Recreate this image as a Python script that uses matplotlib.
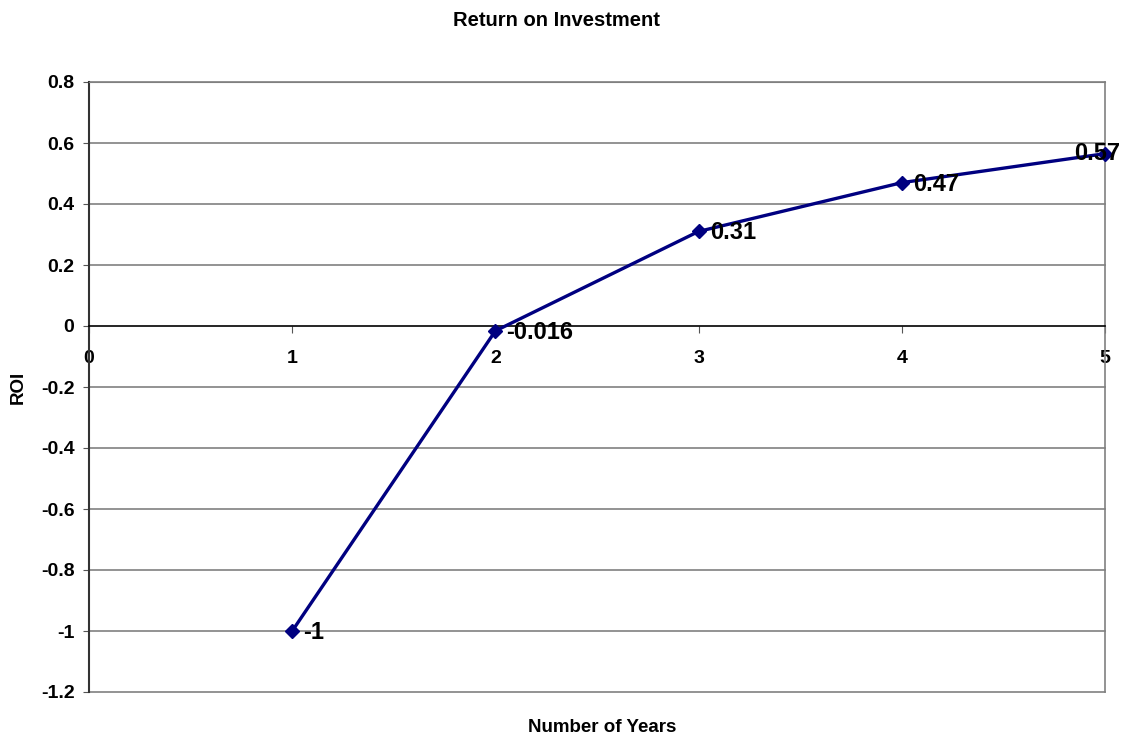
import matplotlib
matplotlib.use("Agg")
import matplotlib.pyplot as plt

years = [1, 2, 3, 4, 5]
roi = [-1.0, -0.016, 0.31, 0.47, 0.565]
labels = ["-1", "-0.016", "0.31", "0.47", "0.57"]
yticks = [-1.2, -1.0, -0.8, -0.6, -0.4, -0.2, 0, 0.2, 0.4, 0.6, 0.8]
ytick_labels = ["-1.2", "-1", "-0.8", "-0.6", "-0.4", "-0.2", "0", "0.2", "0.4", "0.6", "0.8"]
xticks = [0, 1, 2, 3, 4, 5]

plt.rcParams['font.family'] = ['Liberation Sans', 'DejaVu Sans']

fig = plt.figure(figsize=(11.25, 7.38), dpi=100)
ax = fig.add_axes([89/1125, 46/738, (1105-89)/1125, (692-82)/738])

ax.set_xlim(0, 5)
ax.set_ylim(-1.2, 0.8)

for y in yticks:
    if y != 0:
        ax.axhline(y, color='#808080', lw=1.2, zorder=1, clip_on=False)

ax.plot(years, roi, color='#000080', lw=2.4, marker='D', markersize=7,
        markerfacecolor='#000080', markeredgecolor='#000080', zorder=3, clip_on=False)

for i, (x, y, t) in enumerate(zip(years, roi, labels)):
    if i == len(years) - 1:
        ax.annotate(t, (x, y), xytext=(-6, 0), textcoords='offset points',
                    ha='center', va='center', fontsize=17, fontweight='bold', zorder=4,
                    annotation_clip=False)
    else:
        ax.annotate(t, (x, y), xytext=(8, -1), textcoords='offset points',
                    ha='left', va='center', fontsize=17, fontweight='bold', zorder=4)

ax.spines['bottom'].set_position(('data', 0))
ax.spines['bottom'].set_color('black')
ax.spines['bottom'].set_linewidth(1.2)
ax.spines['left'].set_color('#333333')
ax.spines['left'].set_linewidth(1.5)
ax.spines['top'].set_color('#808080')
ax.spines['right'].set_color('#808080')
ax.spines['right'].set_linewidth(1.2)

ax.set_yticks(yticks)
ax.set_yticklabels(ytick_labels, fontsize=14, fontweight='bold')
ax.set_xticks(xticks)
ax.set_xticklabels([str(x) for x in xticks], fontsize=14, fontweight='bold')
ax.tick_params(axis='x', direction='out', length=5, pad=12, color='#555555')
ax.tick_params(axis='y', direction='out', length=4.5, pad=6, color='#555555')

fig.text(556/1125, 1 - 20/738, "Return on Investment", ha='center', va='center',
         fontsize=14.5, fontweight='bold')
fig.text(602/1125, 1 - 728/738, "Number of Years", ha='center', va='center',
         fontsize=13.5, fontweight='bold')
fig.text(18/1125, 1 - 387/738, "ROI", ha='center', va='center', rotation=90,
         fontsize=13.5, fontweight='bold')

fig.savefig("out.png", dpi=100)
